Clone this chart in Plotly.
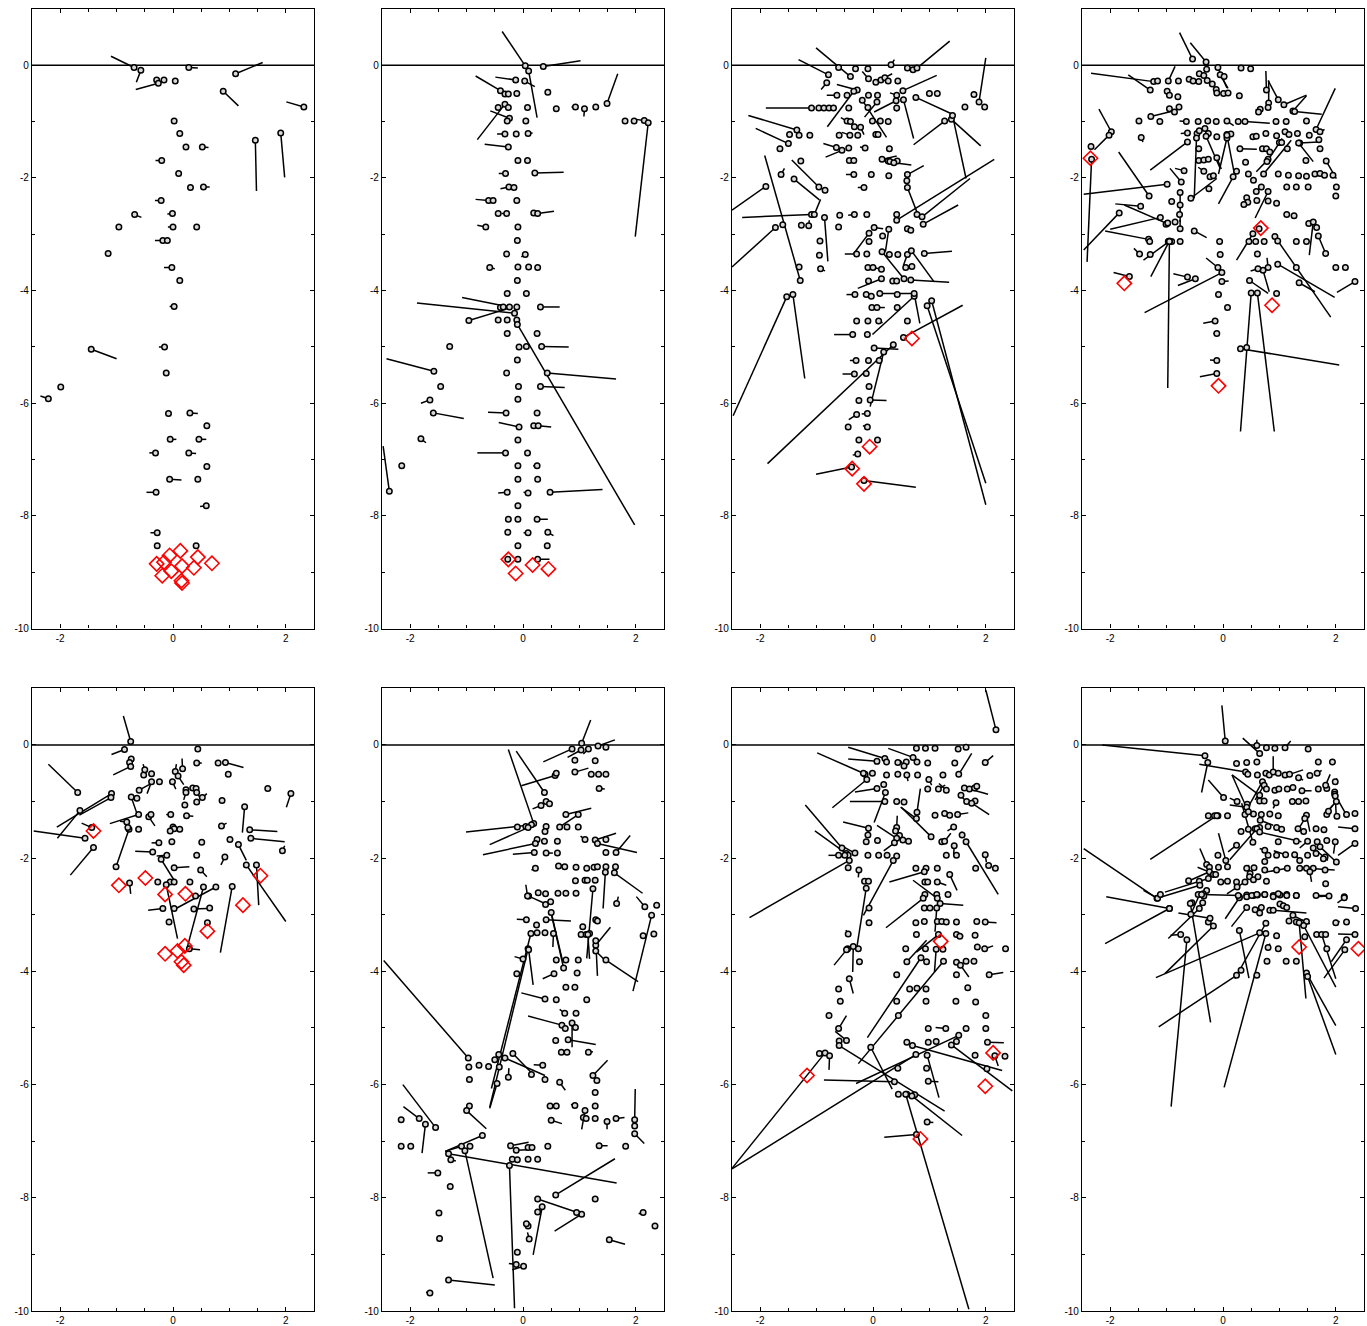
import plotly.graph_objects as go

# Each row: [x, y] for a station dot, or [x, y, x_end, y_end] when the dot carries a displacement segment.
P1 = [
    [-0.69, -0.04, -1.10, 0.16], [-0.57, -0.09, -0.65, -0.30], [-0.29, -0.26], [-0.26, -0.32, -0.66, -0.43],
    [-0.16, -0.26], [0.04, -0.28], [0.28, -0.04, 0.44, -0.05], [1.11, -0.15, 1.59, 0.05],
    [0.89, -0.46, 1.16, -0.72], [2.32, -0.74, 2.01, -0.65], [0.02, -0.99], [0.12, -1.21], [0.23, -1.45],
    [0.52, -1.45, 0.63, -1.46], [1.46, -1.33, 1.48, -2.23], [1.91, -1.20, 1.98, -1.99],
    [-0.20, -1.69, -0.31, -1.69], [0.10, -1.92], [0.31, -2.17], [0.54, -2.16, 0.65, -2.16],
    [-0.21, -2.40, -0.32, -2.40], [-0.68, -2.65, -0.56, -2.70], [-0.01, -2.63, -0.10, -2.64], [-0.96, -2.87],
    [0.0, -2.87, -0.09, -2.87], [0.42, -2.87], [-0.18, -3.11, -0.32, -3.11], [-0.10, -3.11], [-1.15, -3.34],
    [-0.02, -3.59, -0.16, -3.59], [0.12, -3.82], [0.02, -4.28, -0.06, -4.28], [-1.45, -5.04, -1.0, -5.21],
    [-0.15, -5.0, -0.25, -5.0], [-0.12, -5.46], [-1.99, -5.71], [-2.21, -5.92, -2.35, -5.87], [-0.08, -6.18],
    [0.30, -6.17, 0.44, -6.18], [0.60, -6.40], [-0.05, -6.64, 0.06, -6.64], [0.46, -6.64, 0.59, -6.64],
    [-0.31, -6.88, -0.42, -6.88], [0.28, -6.88, 0.41, -6.89], [0.60, -7.12], [-0.06, -7.35, 0.15, -7.36],
    [0.44, -7.35], [-0.30, -7.58, -0.47, -7.58], [0.59, -7.82, 0.48, -7.83], [-0.28, -8.30, -0.40, -8.30],
    [-0.28, -8.53], [0.41, -8.53],
]
D1 = [[-0.06, -8.70], [0.13, -8.62], [-0.29, -8.85], [-0.16, -8.82], [0.44, -8.73], [0.69, -8.84],
      [-0.19, -9.06], [-0.03, -8.98], [0.16, -8.89], [0.37, -8.92], [0.15, -9.15], [0.16, -9.19]]

P2 = [
    [0.04, -0.01, -0.37, 0.60], [0.10, -0.10, 0.25, -0.93], [0.36, -0.02, 1.02, 0.08], [-0.13, -0.26, -0.49, -0.21],
    [0.03, -0.28, 0.21, -0.38], [-0.40, -0.45, -0.84, -0.19], [-0.32, -0.51], [-0.26, -0.51], [-0.11, -0.50],
    [0.44, -0.48, 0.48, -0.43], [-0.32, -0.69, -0.81, -1.32], [-0.44, -0.75], [-0.26, -0.75], [0.08, -0.75],
    [-0.24, -0.94, -0.58, -0.81], [-0.28, -0.99], [0.05, -0.99], [0.59, -0.77], [0.93, -0.74, 0.86, -0.74],
    [1.09, -0.77, 1.08, -0.91], [1.29, -0.74], [1.49, -0.68, 1.68, -0.15], [1.81, -0.99], [1.97, -0.99],
    [2.15, -0.98, 2.0, -0.96], [2.22, -1.02, 1.99, -3.04], [-0.32, -1.22, -0.46, -1.22], [-0.12, -1.22],
    [0.09, -1.21, 0.17, -1.20], [-0.26, -1.45, -0.68, -1.40], [-0.09, -1.69], [0.08, -1.69],
    [-0.31, -1.92, -0.43, -1.92], [0.21, -1.91, 0.72, -1.90], [-0.25, -2.16, -0.40, -2.19], [-0.16, -2.17],
    [-0.61, -2.40, -0.84, -2.38], [-0.53, -2.40], [-0.11, -2.40], [-0.44, -2.63], [-0.29, -2.63, -0.38, -2.63],
    [0.19, -2.62], [0.26, -2.63, 0.55, -2.59], [-0.66, -2.87, -0.81, -2.84], [-0.09, -2.87], [-0.10, -3.11],
    [-0.29, -3.35], [0.04, -3.36, -0.03, -3.40], [-0.59, -3.59, -0.50, -3.61], [-0.09, -3.58], [0.10, -3.58],
    [0.26, -3.59], [-0.10, -3.82], [-0.28, -4.05], [0.06, -4.05], [-0.40, -4.30], [-0.35, -4.29],
    [-0.24, -4.29, -1.08, -4.12], [-0.11, -4.29], [-0.15, -4.40, -1.88, -4.22], [0.31, -4.29, 0.65, -4.29],
    [-0.96, -4.53, -0.24, -4.31], [-0.44, -4.52], [-0.28, -4.52], [-0.11, -4.52], [-0.10, -4.60, 1.98, -8.16],
    [-0.28, -4.76], [0.25, -4.76], [-1.30, -4.99], [-0.07, -5.0], [0.06, -4.99], [0.33, -4.99, 0.81, -5.0],
    [-0.10, -5.23], [-1.58, -5.43, -2.42, -5.21], [-0.29, -5.46], [0.43, -5.46, 1.65, -5.57], [-1.46, -5.70],
    [-0.08, -5.70], [0.31, -5.70, 0.74, -5.72], [-1.65, -5.94, -1.81, -6.0], [-0.09, -5.93],
    [-1.59, -6.17, -1.05, -6.27], [-0.30, -6.17, -0.62, -6.16], [0.25, -6.17], [-0.07, -6.42, -0.43, -6.34],
    [0.19, -6.40], [0.27, -6.40, 0.50, -6.42], [-0.09, -6.65], [-1.81, -6.63, -1.72, -6.70],
    [-0.31, -6.88, -0.81, -6.88], [0.08, -6.88], [-2.15, -7.11], [-0.09, -7.11], [0.25, -7.11, 0.18, -7.11],
    [-0.09, -7.35], [0.26, -7.35], [-2.37, -7.56, -2.48, -6.76], [-0.28, -7.58, -0.44, -7.59],
    [0.09, -7.59, 0.01, -7.58], [0.48, -7.58, 1.41, -7.53], [-0.09, -7.82], [-0.26, -8.06], [-0.09, -8.06],
    [0.25, -8.06, 0.44, -8.06], [-0.27, -8.29], [0.09, -8.30, 0.01, -8.30], [0.44, -8.29, 0.54, -8.35],
    [-0.09, -8.53], [0.43, -8.53], [-0.27, -8.77], [-0.09, -8.77], [0.26, -8.77, 0.47, -8.77],
]
D2 = [[-0.26, -8.77], [-0.13, -9.02], [0.17, -8.87], [0.45, -8.94]]

P3 = [
    [-0.61, -0.04], [-0.79, -0.17, -1.32, 0.10], [-0.40, -0.20, -1.01, 0.31], [-0.31, -0.06], [-0.09, -0.06],
    [0.32, 0.01, 0.38, 0.10], [0.61, -0.05], [0.71, -0.08], [0.78, -0.05, 1.36, 0.43], [-0.82, -0.31, -0.92, -0.43],
    [-0.08, -0.24, -0.19, -0.11], [0.05, -0.30], [0.14, -0.26], [0.21, -0.22, 0.34, -0.15], [0.27, -0.28],
    [0.44, -0.28], [-0.64, -0.53, -0.82, -0.53], [-0.46, -0.53], [-0.28, -0.44, -0.64, -0.34],
    [-0.34, -0.46, -0.81, -1.09], [-0.08, -0.53], [0.08, -0.53], [0.42, -0.53, 0.30, -0.49],
    [0.53, -0.45, 1.13, -0.18], [1.0, -0.50], [1.14, -0.50], [1.79, -0.52], [1.88, -0.65, 2.0, 0.13],
    [1.98, -0.74], [1.63, -0.74], [-1.09, -0.76, -1.90, -0.76], [-0.96, -0.76], [-0.87, -0.76], [-0.78, -0.76],
    [-0.70, -0.76], [-0.43, -0.76], [-0.19, -0.62, 0.24, -1.28], [0.07, -0.65, -0.15, -0.92],
    [0.41, -0.63, 0.02, -0.83], [0.54, -0.61, 0.72, -1.30], [0.76, -0.57, 1.41, -0.87], [0.42, -0.76, 0.42, -0.82],
    [-0.09, -0.75], [-0.46, -0.99, -0.57, -0.93], [-0.40, -1.0], [-0.01, -0.99], [0.13, -0.99], [0.27, -1.0],
    [1.27, -0.99, 0.72, -1.41], [1.39, -0.96, 1.91, -1.43], [1.41, -0.89, 1.65, -2.01],
    [-1.35, -1.15, -2.21, -0.89], [-1.48, -1.23], [-1.31, -1.24], [-1.12, -1.24], [-0.33, -1.09],
    [-0.22, -1.10, -0.16, -1.23], [-0.60, -1.24], [-0.41, -1.24, -0.55, -1.19], [-0.27, -1.24], [0.05, -1.23],
    [0.09, -1.23], [-1.50, -1.39, -2.08, -1.12], [-1.65, -1.48], [-0.65, -1.46, -0.88, -1.39],
    [-0.55, -1.51, -0.84, -1.63], [-0.43, -1.47], [-0.14, -1.47, -0.23, -1.45], [0.29, -1.48], [-1.28, -1.70],
    [-0.42, -1.69], [-0.34, -1.69], [0.16, -1.67, 0.42, -1.61], [0.27, -1.70], [0.30, -1.71], [0.43, -1.70],
    [0.37, -1.73, 0.68, -1.77], [-1.63, -1.94, -1.57, -1.83], [-1.40, -2.02, -0.95, -2.39],
    [-0.96, -2.16, -1.44, -1.68], [-0.85, -2.22], [-0.34, -1.94, -0.48, -1.94], [-0.03, -1.94], [0.28, -1.96],
    [0.61, -1.94, 0.90, -1.78], [0.60, -2.05], [-0.16, -2.17, -0.27, -2.17], [0.61, -2.17, 0.80, -2.66],
    [-1.90, -2.15, -2.50, -2.57], [-1.29, -3.82, -1.92, -1.60], [-1.31, -3.58], [-1.09, -2.65, -2.32, -2.70],
    [-1.04, -2.65, -0.93, -2.38], [-0.86, -2.70, -0.80, -3.48], [-0.59, -2.66], [-0.33, -2.65, -0.44, -2.66],
    [-0.11, -2.65], [0.42, -2.65], [0.42, -2.75, 2.15, -1.67], [0.78, -2.65], [0.87, -2.69, 1.72, -2.01],
    [0.89, -2.82, 1.51, -2.48], [-1.73, -2.88, -2.50, -3.58], [-1.60, -2.83], [-1.27, -2.84],
    [-1.14, -2.85, -1.13, -2.75], [-0.61, -2.87], [0.02, -2.88, 0.18, -2.90], [0.17, -3.03],
    [0.28, -2.91, 0.22, -3.31], [0.61, -2.90], [0.67, -2.93], [-0.07, -2.98, -0.34, -3.34], [-0.07, -3.13],
    [-0.94, -3.12], [-0.95, -3.37], [-0.93, -3.61, -0.85, -3.65], [-0.29, -3.35, -0.50, -3.35], [-0.11, -3.35],
    [0.16, -3.31, 0.54, -3.78], [0.29, -3.36], [0.44, -3.36], [0.61, -3.36, 0.54, -3.55],
    [0.68, -3.29, 1.08, -3.84], [0.91, -3.34, 1.40, -3.30], [-0.09, -3.59], [0.0, -3.59],
    [0.15, -3.62, 0.04, -3.60], [-0.08, -3.83], [0.15, -3.79, -0.27, -3.96], [0.35, -3.83], [0.42, -3.83],
    [0.55, -3.79], [0.67, -3.81, 1.35, -3.85], [0.58, -3.59], [0.69, -3.57],
    [-1.53, -4.11, -2.48, -6.22], [-1.42, -4.07, -1.21, -5.56], [-0.32, -4.07, -0.47, -4.07], [-0.12, -4.07],
    [-0.03, -4.10], [0.12, -4.05, 0.74, -4.05], [0.43, -4.07], [0.73, -4.10, -0.01, -4.78],
    [0.73, -4.05, 0.83, -4.58], [0.96, -4.27, 2.0, -7.42], [1.04, -4.18, 2.0, -7.80], [0.36, -4.96, -1.87, -7.07],
    [0.54, -4.83, 1.59, -4.26], [-0.02, -4.30], [0.07, -4.30, 0.21, -4.30], [0.43, -4.30], [-0.29, -4.54],
    [-0.09, -4.54], [0.10, -4.54, 0.17, -4.57], [0.61, -4.54], [-0.36, -4.78, -0.69, -4.78], [-0.10, -4.78],
    [0.02, -5.02, 0.45, -5.04], [0.19, -5.09, -0.05, -6.06], [-0.30, -5.24, -0.41, -5.24], [-0.08, -5.24],
    [0.11, -5.24], [-0.33, -5.48, -0.54, -5.48], [-0.12, -5.47], [-0.07, -5.70], [-0.25, -5.95],
    [-0.05, -5.94, 0.24, -5.95], [-0.29, -6.20, -0.43, -6.29], [-0.10, -6.18, -0.20, -6.19], [-0.44, -6.42],
    [-0.10, -6.42, -0.18, -6.40], [-0.25, -6.65], [0.08, -6.65], [-0.27, -6.90, -0.36, -6.92],
    [-0.16, -7.37, 0.76, -7.49], [-0.38, -7.13, -1.01, -7.26],
]
D3 = [[0.69, -4.85], [-0.06, -6.77], [-0.37, -7.16], [-0.16, -7.43]]

P4 = [
    [-0.54, 0.11, -0.77, 0.58], [-0.30, 0.06, -0.58, 0.40], [-0.29, -0.07], [-0.09, -0.04, 0.07, -0.40],
    [0.32, -0.05], [0.49, -0.06], [-1.23, -0.29, -2.34, -0.14], [-1.16, -0.28], [-1.29, -0.44, -1.68, -0.17],
    [-0.97, -0.28, -0.85, -0.02], [-0.79, -0.28], [-0.60, -0.25], [-0.53, -0.28], [-0.43, -0.29], [-0.42, -0.15],
    [-0.34, -0.18], [-0.28, -0.27], [-0.19, -0.33], [-0.12, -0.43, -0.16, -0.38], [-0.05, -0.17, 0.09, -0.41],
    [0.02, -0.20], [-0.99, -0.46], [-0.95, -0.53], [-0.80, -0.56], [-0.11, -0.49], [0.01, -0.50], [0.09, -0.49],
    [0.29, -0.54], [0.77, -0.44, 0.76, -0.10], [0.81, -0.67, 0.81, -0.27], [0.98, -0.61, 0.80, -0.27],
    [1.08, -0.70, 1.48, -0.53], [1.24, -0.81, 1.48, -0.54], [1.27, -0.82, 1.75, -0.87], [0.66, -0.78],
    [0.63, -0.83, 0.58, -0.78], [0.80, -0.75], [1.65, -1.14, 1.99, -0.41], [1.72, -1.18, 1.80, -1.14],
    [-1.98, -1.18, -2.20, -0.78], [-2.02, -1.24, -2.28, -1.50], [-2.34, -1.44], [-2.33, -1.67, -2.41, -3.49],
    [-1.49, -0.99], [-1.28, -0.91, -0.83, -0.80], [-1.12, -1.0], [-0.95, -0.77], [-0.86, -0.83], [-0.78, -0.74],
    [-0.65, -1.0, -0.77, -0.99], [-0.44, -1.0], [-0.27, -0.99], [-0.12, -1.0], [0.07, -0.99, 0.19, -1.07],
    [0.27, -1.0], [0.39, -1.0, 0.83, -1.03], [0.94, -1.0], [1.12, -1.0], [1.48, -0.99],
    [-1.45, -1.28, -1.42, -1.36], [-0.63, -1.20, -0.75, -1.21], [-0.63, -1.36, -1.29, -1.86], [-0.46, -1.21],
    [-0.42, -1.16], [-0.32, -1.12], [-0.26, -1.21], [-0.11, -1.27], [0.07, -1.23], [0.14, -1.22],
    [-0.47, -1.29, -0.51, -2.36], [-0.30, -1.26, -0.05, -1.83], [0.07, -1.29, -0.08, -1.93],
    [0.07, -1.24, 0.20, -1.92], [-0.43, -1.48], [-0.43, -1.69], [-0.34, -1.68], [-0.26, -1.67],
    [-0.34, -1.88, -0.44, -1.81], [-0.11, -1.64, -0.03, -1.84], [0.30, -1.48, 0.60, -1.49], [0.40, -1.72],
    [0.53, -1.27], [0.59, -1.26], [0.76, -1.21], [0.95, -1.25], [1.10, -1.18], [1.17, -1.23], [1.32, -1.21],
    [1.53, -1.24], [0.70, -1.48], [0.77, -1.48], [0.83, -1.54], [0.80, -1.67, 0.59, -1.89],
    [0.78, -1.71, 1.05, -1.30], [1.00, -1.37], [1.04, -1.37], [1.14, -1.48], [1.36, -1.38, 1.69, -1.36],
    [1.34, -1.38, 1.60, -1.71], [1.47, -1.69], [1.70, -1.32], [1.72, -1.48], [1.83, -1.70, 2.01, -2.01],
    [-0.99, -2.11, -2.47, -2.29], [-1.31, -2.32, -1.85, -1.54], [-0.69, -1.87, -0.85, -1.83],
    [-0.74, -2.07, -0.94, -1.83], [-0.76, -2.26, -0.76, -2.78], [-0.91, -2.42], [-0.76, -2.48], [-0.77, -2.65],
    [-0.57, -2.36, -0.11, -2.01], [-0.23, -1.98], [-0.17, -1.96], [-0.25, -2.19], [0.18, -1.98, -0.08, -2.46],
    [0.24, -1.88], [0.45, -1.93], [0.54, -2.04], [0.68, -2.16], [0.59, -2.24], [0.72, -1.93, 1.21, -1.33],
    [0.80, -2.24, 0.57, -2.71], [0.98, -1.93], [1.13, -2.16], [1.16, -1.95], [1.34, -1.96], [1.48, -1.97],
    [1.63, -1.93], [1.72, -1.92], [1.80, -1.95], [1.95, -1.95], [2.01, -2.16], [2.00, -2.32], [1.30, -2.16],
    [1.51, -2.16], [0.42, -2.35], [0.44, -2.43], [0.37, -2.47], [0.60, -2.40], [0.80, -2.41],
    [-1.46, -2.50, -1.91, -2.46], [-1.11, -2.70, -2.0, -2.91], [-0.99, -2.81, -1.75, -2.48], [0.95, -2.45],
    [1.13, -2.65], [1.26, -2.67],
    [-1.01, -2.82], [-0.98, -2.80], [-0.85, -2.78], [-0.76, -2.90, -0.76, -2.74], [-0.51, -2.94, -0.29, -3.06],
    [-1.32, -3.09, -2.09, -2.94], [-1.30, -3.13], [-0.97, -3.13], [-0.91, -3.13], [-0.96, -3.13, -1.41, -3.46],
    [-0.95, -3.12, -1.28, -3.75], [-0.95, -3.13, -0.98, -5.73], [-0.76, -3.13], [-1.48, -3.35, -1.58, -3.25],
    [-1.29, -3.36], [-1.84, -2.62, -2.47, -3.28], [-1.66, -3.75, -1.94, -3.68], [-0.63, -3.76, -0.88, -3.70],
    [-0.49, -3.79, -0.80, -3.91], [-0.06, -3.13], [-0.05, -3.36], [-0.09, -3.59, -0.30, -3.42],
    [-0.02, -3.68, -1.39, -4.39], [-0.02, -3.84, 0.10, -3.83], [-0.08, -4.07], [0.08, -4.30],
    [-0.14, -4.54, -0.35, -4.58], [-0.11, -4.76, -0.17, -4.76], [-0.11, -5.24, -0.23, -5.23],
    [-0.11, -5.47, -0.41, -5.53], [0.31, -5.03, 2.06, -5.32], [0.42, -5.01], [0.50, -4.04, 0.31, -6.50],
    [0.61, -4.04, 0.91, -6.50], [0.95, -4.05], [0.47, -3.82, 0.80, -4.05], [0.61, -3.35],
    [0.71, -3.64, 0.82, -4.02], [0.80, -3.59, 0.78, -3.42], [0.62, -3.61, 0.49, -3.65], [0.64, -2.90],
    [0.53, -2.99, 0.24, -3.46], [0.46, -3.13], [0.73, -3.13], [0.58, -3.13], [0.92, -3.04, 1.91, -4.47],
    [0.97, -3.12], [0.97, -3.53, 1.98, -4.12], [1.30, -3.13], [1.48, -3.13], [1.30, -3.59],
    [1.35, -3.86, 1.63, -4.02], [1.52, -2.81], [1.66, -2.88], [1.69, -3.03], [1.60, -2.78, 1.53, -3.37],
    [1.82, -3.34, 1.69, -3.03], [2.0, -3.59], [2.17, -3.59], [2.34, -3.84, 2.02, -4.03],
]
D4 = [[-2.35, -1.65], [0.67, -2.89], [-1.75, -3.87], [0.87, -4.26], [-0.08, -5.69]]

P5 = [
    [-0.75, 0.06, -0.88, 0.51], [-0.86, -0.08, -1.09, -0.17], [-0.74, -0.25], [-0.77, -0.31],
    [-0.75, -0.38, -1.06, -0.53], [-1.69, -0.84, -2.21, -0.34], [-0.52, -0.53], [-0.38, -0.51],
    [-0.50, -0.44, -0.53, -0.34], [-0.38, -0.65, -0.46, -0.86], [-0.24, -0.65], [-0.60, -0.80, -0.35, -0.66],
    [0.04, -0.47, 0.06, -0.34], [0.17, -0.42, 0.16, -0.24], [0.09, -0.55, 0.19, -0.70], [-0.01, -0.65, 0.05, -0.78],
    [0.23, -0.79], [0.35, -0.76], [0.41, -0.77], [0.23, -0.84, 0.19, -0.97], [0.42, -0.84, 0.48, -0.93],
    [0.52, -0.93, 0.60, -0.86], [0.44, -0.07], [0.42, -0.32, 0.51, -0.32], [0.80, -0.32],
    [0.93, -0.31, 1.25, -0.40], [0.98, -0.52], [1.68, -0.77, 1.74, -0.78], [2.09, -0.86, 2.01, -1.10],
    [0.42, -1.01], [0.21, -1.06], [0.87, -0.98, 0.92, -0.97], [1.27, -1.09, 1.23, -1.55],
    [-1.09, -0.86, -2.06, -1.45], [-1.10, -0.93, -1.66, -1.24], [-0.74, -0.92, -0.63, -1.24], [-0.64, -0.94],
    [-1.65, -1.16, -2.05, -1.65], [-0.61, -1.23, -1.12, -1.39], [-0.43, -1.27, -0.32, -1.43], [-0.39, -1.23],
    [-0.04, -1.23, -0.12, -1.23], [0.24, -1.25, 0.36, -1.26], [-0.82, -1.36, -0.94, -1.35],
    [-0.78, -1.49, -1.01, -2.15], [-0.80, -1.46], [-0.61, -1.49], [-1.44, -1.46, -1.62, -1.38],
    [-1.56, -1.65, -2.47, -1.52], [-1.41, -1.81, -1.82, -2.30], [0.0, -1.45], [0.02, -1.48], [0.12, -1.49],
    [-0.05, -1.52], [-0.25, -1.73, -0.38, -1.73], [-0.02, -1.71], [0.51, -1.72], [0.86, -1.43, 0.95, -1.38],
    [1.01, -1.67], [1.36, -1.50, 1.85, -1.53], [1.38, -1.65, 1.98, -1.71], [1.94, -1.87, 1.98, -1.78],
    [1.16, -1.76, 1.30, -2.04], [-0.36, -1.89, -0.67, -1.88], [-0.11, -1.95, -0.29, -1.96], [0.42, -1.95],
    [-0.21, -2.02, 0.02, -2.39], [0.92, -1.98, 0.85, -2.12], [1.30, -2.12, 2.0, -3.12], [1.48, -2.12, 1.52, -2.83],
    [0.02, -2.17, 0.29, -2.15], [0.49, -2.21, 0.60, -2.33], [-1.01, -2.15], [-0.77, -2.44, -0.75, -2.63],
    [-0.27, -2.42], [-0.05, -2.42], [0.02, -2.42], [-0.12, -2.47, 0.08, -3.42], [0.30, -2.42],
    [0.54, -2.51, 0.23, -3.66], [0.76, -2.51, 0.07, -2.88], [1.05, -2.50, 0.84, -3.67], [0.40, -2.67],
    [-0.18, -2.89, -0.44, -2.92], [0.02, -2.89], [0.37, -2.90, 0.60, -2.89], [0.65, -2.88], [-0.07, -3.13],
    [0.61, -3.14], [0.29, -3.60, 0.48, -3.62],
]
D5 = [[-1.41, -1.52], [-0.49, -2.35], [-0.96, -2.48], [-0.14, -2.64], [0.22, -2.63], [1.55, -2.31],
      [1.24, -2.83], [0.61, -3.29], [-0.14, -3.69], [0.08, -3.64], [0.21, -3.55], [0.15, -3.83], [0.19, -3.89]]

P6 = [
    [1.04, 0.03, 1.20, 0.44], [0.87, -0.07, 0.36, -0.30], [1.03, -0.09, 0.79, -0.22], [1.16, -0.07, 1.07, -0.16],
    [1.33, -0.02, 1.63, 0.09], [1.47, -0.04], [0.92, -0.27], [1.28, -0.28], [0.57, -0.54, -0.03, -0.72],
    [0.59, -0.50], [0.92, -0.48, 1.16, -0.41], [1.21, -0.52], [1.34, -0.52], [1.47, -0.52],
    [1.35, -0.77, 1.45, -0.78], [0.38, -0.84, -0.12, -0.11], [0.19, -1.39, -0.26, -0.08], [0.41, -1.0],
    [0.47, -1.04], [0.32, -1.07, 0.17, -1.13], [0.76, -1.23, 1.21, -1.12], [0.98, -1.23, 0.69, -1.42],
    [0.65, -1.45], [0.78, -1.45], [0.98, -1.45], [1.10, -1.67, 1.02, -1.61], [1.28, -1.68, 1.65, -1.56],
    [1.32, -1.74, 2.02, -1.90], [1.47, -1.67], [1.65, -1.90, 1.90, -1.60], [1.47, -1.90], [0.41, -1.44],
    [0.39, -1.53], [0.25, -1.67], [0.38, -1.70], [-0.10, -1.45], [0.05, -1.44], [0.15, -1.41, -1.01, -1.54],
    [0.09, -1.46, -0.59, -1.76], [0.22, -1.74, -0.71, -1.94], [0.20, -1.90, -0.18, -1.93],
    [0.41, -1.91, 0.53, -1.91], [0.61, -1.91], [0.61, -1.70], [0.22, -2.18, 0.15, -2.21], [0.63, -2.14],
    [0.74, -2.15], [0.94, -2.16], [1.13, -2.18], [1.26, -2.16], [1.32, -2.15], [1.47, -2.15], [1.64, -2.15],
    [1.46, -2.25, 1.42, -2.89], [1.62, -2.26, 2.12, -2.62], [0.93, -2.40], [1.10, -2.39], [1.14, -2.39],
    [1.28, -2.39], [1.24, -2.54, 1.13, -3.77], [0.10, -2.67, 0.41, -2.81], [0.08, -2.67, 0.05, -2.47],
    [0.27, -2.61], [0.40, -2.63], [0.40, -2.82], [0.49, -2.77], [0.62, -2.62], [0.76, -2.62], [0.94, -2.62],
    [1.66, -2.80, 1.69, -2.68], [2.16, -2.86, 2.01, -2.68], [2.37, -2.83], [0.06, -3.09, -0.11, -3.08],
    [0.41, -3.09, 0.85, -3.11], [0.50, -2.96, 0.70, -3.81], [0.24, -3.18], [0.25, -3.32], [0.39, -3.32],
    [0.54, -3.33, 0.53, -3.57], [0.09, -3.60, -0.59, -6.40], [0.14, -3.33, -0.56, -6.07], [1.06, -3.21],
    [1.03, -3.35], [1.12, -3.35], [1.18, -3.33], [1.29, -3.09], [1.32, -3.11], [1.15, -3.35, 1.18, -3.78],
    [1.29, -3.54, 1.55, -3.22], [1.29, -3.64, 1.47, -3.82], [1.47, -3.80, 2.04, -4.18],
    [1.29, -3.46, 1.32, -4.08], [2.28, -3.01, 1.95, -4.35], [2.13, -3.37], [2.32, -3.34],
    [0.0, -3.78, -0.15, -3.74], [0.10, -3.62, 0.18, -4.24], [0.59, -3.80], [0.76, -3.80], [0.98, -3.80],
    [0.72, -3.94, 0.50, -2.98], [0.55, -4.04, 0.35, -4.13], [-0.11, -4.04], [0.76, -4.28], [0.92, -4.28],
    [0.96, -4.03], [0.39, -4.49, -0.03, -4.38], [0.59, -4.50], [1.13, -4.50], [0.74, -4.74, 0.65, -4.67],
    [0.94, -4.74], [0.69, -4.95, 0.09, -4.79], [0.87, -4.91, 0.87, -5.34], [0.75, -5.01], [0.93, -4.99],
    [0.58, -5.22], [0.80, -5.21, 1.29, -5.29], [0.68, -5.43], [0.78, -5.43], [1.16, -5.43, 1.24, -5.42],
    [-0.97, -5.53, -2.47, -3.81], [-0.96, -5.69], [-0.78, -5.66], [-0.61, -5.68], [-0.42, -5.69],
    [-0.50, -5.56], [-0.43, -5.47], [-0.32, -5.53, 0.39, -5.84], [-0.18, -5.45, 0.15, -5.79],
    [0.35, -5.66, 0.19, -5.65], [-0.26, -5.87, -0.25, -5.71], [0.15, -5.82], [0.39, -5.91], [-0.95, -5.91],
    [-0.46, -5.98, -0.59, -6.42], [0.65, -5.96, 0.75, -6.10], [1.24, -5.84, 1.50, -5.57], [1.31, -5.93],
    [1.28, -6.14], [-0.95, -6.38], [-1.0, -6.46, -0.65, -6.78], [0.48, -6.38], [0.59, -6.38],
    [0.92, -6.37, 0.85, -6.35], [1.28, -6.38], [1.10, -6.46, 1.04, -6.79], [1.07, -6.58], [1.12, -6.60],
    [1.28, -6.60], [1.49, -6.65, 1.49, -6.79], [1.65, -6.60, 1.80, -6.58], [1.98, -6.62, 1.99, -6.08],
    [1.98, -6.73], [1.98, -6.87, 2.15, -7.04], [0.50, -6.63, 0.69, -6.69], [-2.16, -6.62],
    [-1.84, -6.60, -2.12, -6.39], [-1.73, -6.70, -1.79, -7.21], [-1.55, -6.76, -2.13, -6.0], [-2.16, -7.09],
    [-1.99, -7.09], [-1.09, -7.09, -1.38, -7.18], [-0.94, -7.09], [-1.03, -7.17, -0.53, -9.42],
    [-0.72, -6.90, -1.38, -7.18], [-1.28, -7.33, -1.19, -7.35], [-1.32, -7.22, 1.66, -7.74],
    [-0.22, -7.08, 0.10, -7.02], [0.09, -7.11], [0.16, -7.11], [-0.12, -7.16, 0.09, -7.15], [0.44, -7.09],
    [-0.19, -7.32], [-0.10, -7.33], [0.09, -7.32], [0.26, -7.32], [-0.24, -7.43, -0.15, -9.95],
    [1.35, -7.08, 1.50, -7.08], [1.82, -7.09], [0.58, -7.95, 1.63, -7.31], [-1.51, -7.56, -1.69, -7.56],
    [-1.29, -7.80], [0.26, -8.02, 0.94, -8.25], [1.28, -8.02], [0.34, -8.16, 0.18, -9.01], [0.26, -8.25],
    [1.04, -8.29, 0.56, -8.59], [0.95, -8.26], [-1.49, -8.27], [2.13, -8.26, 2.05, -8.28], [2.34, -8.50],
    [0.09, -8.50], [0.06, -8.46], [0.11, -8.73, 0.08, -8.61], [-1.48, -8.72], [1.53, -8.74, 1.81, -8.82],
    [-0.10, -8.96], [-0.12, -9.18, -0.25, -9.16], [0.01, -9.21, -0.19, -9.27], [-1.32, -9.45, -0.50, -9.54],
    [-1.65, -9.68, -1.72, -9.67],
]
D6 = []

P7 = [
    [2.18, 0.27, 2.0, 0.97], [0.77, -0.06], [0.93, -0.06], [1.10, -0.06], [1.51, -0.07], [1.65, -0.04],
    [0.21, -0.24, -0.44, -0.04], [0.71, -0.22, 0.27, -0.06], [0.07, -0.29, -0.44, -0.25], [0.24, -0.30],
    [0.44, -0.31], [0.59, -0.30], [0.78, -0.30], [0.97, -0.32], [1.45, -0.32], [0.55, -0.37, 0.48, -0.27],
    [-0.14, -0.52], [-0.01, -0.50], [-0.17, -0.50, -0.99, -0.14], [-0.11, -0.61, -0.72, -1.11],
    [0.07, -0.77, -0.32, -0.83], [0.19, -0.70], [0.24, -0.53], [0.44, -0.52], [0.60, -0.53, 0.62, -0.64],
    [0.79, -0.53], [0.99, -0.61, 1.04, -0.71], [1.24, -0.53], [1.52, -0.52, 1.75, -0.15],
    [1.99, -0.31, 2.13, -0.19], [0.97, -0.78], [1.16, -0.78, 1.28, -0.71], [1.30, -0.80, 1.17, -0.68],
    [1.62, -0.76], [1.71, -0.78, 2.04, -0.87], [1.80, -0.76], [1.84, -0.73], [1.56, -0.89], [1.81, -0.99],
    [1.66, -1.0, 1.54, -0.89], [1.75, -1.03, 2.06, -1.23], [0.22, -0.84, 0.02, -1.37], [0.21, -1.0, -0.41, -1.0],
    [0.42, -1.0], [0.55, -1.01], [0.78, -1.19, 0.84, -0.77], [0.77, -1.30, 0.49, -1.10],
    [1.03, -1.62, 0.50, -1.10], [1.10, -1.24], [1.27, -1.21], [1.36, -1.24], [1.50, -1.23, 1.69, -1.20],
    [1.43, -1.45, 1.32, -1.52], [1.22, -1.71], [1.27, -1.70, 1.38, -1.56], [1.44, -1.78, 1.43, -1.94],
    [1.30, -1.95], [1.48, -1.95], [1.65, -1.71, 2.22, -2.64], [1.58, -1.59, 1.57, -1.53],
    [1.99, -1.94, 2.01, -2.07], [2.05, -2.13], [2.17, -2.18], [1.82, -2.18], [-0.08, -1.47, -0.53, -1.36],
    [-0.09, -1.59, -0.08, -1.42], [0.42, -1.46, 0.43, -1.25], [0.40, -1.52], [0.47, -1.60], [0.53, -1.68],
    [0.63, -1.70], [0.42, -1.65, 0.07, -1.42], [-0.12, -1.71], [0.08, -1.69], [0.38, -1.73, 0.19, -1.87],
    [-0.55, -1.82, -1.20, -1.06], [-0.47, -1.92, -1.03, -1.52], [-0.32, -1.91, -0.58, -1.77], [-0.44, -1.95],
    [-0.50, -1.95], [-0.61, -1.95, -0.79, -1.95], [-0.09, -1.95], [0.10, -1.95], [0.25, -1.95], [0.42, -1.96],
    [-0.42, -2.04, -2.19, -3.05], [-0.44, -2.17], [-0.25, -2.21, -0.26, -2.34], [-0.15, -2.41], [-0.08, -2.41],
    [0.36, -2.04, -0.17, -3.01], [-0.12, -2.53, -0.29, -3.60], [-0.07, -2.88], [-0.07, -3.14],
    [-0.44, -3.34, -0.48, -3.27], [0.76, -2.18], [0.94, -2.18], [1.14, -2.18], [0.91, -2.24, 0.29, -2.42],
    [0.92, -2.42], [0.97, -2.42], [1.14, -2.42, 1.30, -2.48], [1.36, -2.29, 1.49, -2.57], [0.92, -2.64],
    [1.13, -2.64], [1.33, -2.64], [1.14, -2.71, 0.71, -2.39], [1.19, -2.80, 1.60, -2.83], [0.91, -2.88],
    [1.01, -2.88], [1.13, -2.88, 1.10, -3.30], [0.89, -2.71, 0.23, -3.23], [0.76, -3.14], [0.91, -3.12],
    [1.14, -3.12], [1.22, -3.12], [1.30, -3.13], [1.48, -3.13], [1.84, -3.12], [1.99, -3.13, 2.19, -3.14],
    [0.77, -3.35], [1.16, -3.35, 0.77, -3.66], [1.48, -3.35, 1.60, -3.38], [1.54, -3.38], [1.81, -3.36],
    [-0.45, -3.60], [-0.35, -3.56, -0.36, -4.01], [-0.26, -3.60], [-0.47, -3.62, -0.69, -3.89], [-0.24, -3.83],
    [-0.42, -4.13, -0.35, -4.39], [0.58, -3.60], [0.93, -3.60], [1.12, -3.61, 1.09, -4.01], [1.24, -3.61],
    [0.85, -3.76, -0.10, -5.17], [0.60, -3.83, 0.95, -3.45], [1.25, -3.82, -0.26, -5.63], [0.95, -3.83],
    [1.48, -3.84], [1.55, -3.89, 1.70, -4.10], [1.65, -3.82], [1.79, -3.82], [1.98, -3.60, 2.13, -3.55],
    [2.35, -3.60], [1.85, -3.57], [0.42, -4.06], [1.48, -4.06], [2.06, -4.06, 2.31, -4.02], [-0.61, -4.31],
    [-0.58, -4.53], [-0.78, -4.78], [0.65, -4.31], [0.78, -4.30], [0.94, -4.31], [0.42, -4.53], [0.94, -4.53],
    [1.47, -4.53], [1.82, -4.54], [1.68, -4.29], [0.45, -4.78], [2.0, -4.78], [-0.61, -5.01, -0.47, -4.78],
    [-0.47, -5.22, -0.67, -5.06], [-0.60, -5.23], [-0.60, -5.31, 1.27, -6.47], [0.98, -5.01],
    [1.29, -5.01, 1.11, -4.99], [1.65, -5.01], [2.0, -5.01], [0.60, -5.25], [0.70, -5.31, 2.29, -5.75],
    [0.98, -5.25], [1.12, -5.24], [1.52, -5.13, -0.30, -5.98], [1.48, -5.24], [1.39, -5.30, 2.47, -6.11],
    [2.03, -5.25, 2.32, -5.26], [0.76, -5.47, -2.50, -7.49], [-0.95, -5.45], [-0.85, -5.44, -2.50, -7.48],
    [-0.77, -5.49, -0.78, -5.74], [0.96, -5.48, 1.17, -6.23], [0.95, -5.71], [0.44, -5.71],
    [0.98, -5.94, 1.16, -5.95], [0.38, -5.95, -0.87, -5.92], [-0.04, -5.34, 0.34, -6.08], [1.81, -5.48],
    [2.16, -5.49, 2.22, -5.67], [2.34, -5.50], [2.02, -5.72], [0.45, -6.17], [0.60, -6.17], [0.74, -6.18],
    [0.58, -6.17, 1.70, -9.97], [0.69, -6.20, 1.58, -6.90], [0.96, -6.66, 1.07, -6.67], [0.77, -6.88, 0.20, -6.93],
]
D7 = [[1.20, -3.47], [-1.17, -5.84], [2.13, -5.44], [1.99, -6.03], [0.84, -6.96]]

P8 = [
    [0.04, 0.07, -0.02, 0.70], [-0.32, -0.19, -2.14, 0.0], [-0.27, -0.31, -0.38, -0.84], [0.40, -0.48, -0.42, -0.34],
    [0.65, -0.15, 0.35, 0.12], [0.60, -0.01, 0.60, 0.09], [0.77, -0.05], [0.92, -0.06], [1.10, -0.05, 1.20, 0.07],
    [1.51, -0.07], [0.24, -0.33], [0.42, -0.31], [0.60, -0.30], [1.69, -0.30], [1.94, -0.30], [0.44, -0.52],
    [0.61, -0.53], [0.76, -0.50], [0.82, -0.53], [0.89, -0.48, 0.89, -0.20], [0.98, -0.50], [1.10, -0.53],
    [1.18, -0.52, 1.42, -0.44], [1.34, -0.58, 1.42, -0.62], [1.54, -0.54], [1.67, -0.50, 1.75, -0.45],
    [0.70, -0.65, 0.45, -1.09], [0.73, -0.71, 0.57, -0.97], [0.77, -0.78], [0.92, -0.80], [0.99, -0.78],
    [0.65, -0.89, 0.16, -0.53], [1.14, -0.78], [1.24, -0.75], [1.40, -0.81, 1.57, -0.81], [1.69, -0.78],
    [1.84, -0.77], [1.98, -0.83], [1.82, -0.71, 1.90, -0.52], [1.99, -0.65, 2.02, -0.59],
    [1.98, -0.87, 2.19, -1.24], [1.99, -0.90, 2.01, -1.30], [2.01, -1.0, 1.84, -1.18],
    [0.01, -0.93, -0.26, -0.62], [0.25, -1.0, 0.12, -0.94], [0.43, -1.05], [0.65, -0.99], [0.73, -0.99],
    [0.94, -1.02, 0.89, -1.12], [1.23, -1.0], [1.34, -1.0], [1.47, -0.99], [0.42, -1.10, 0.12, -1.06],
    [-0.26, -1.25], [-0.15, -1.25], [-0.09, -1.25], [0.08, -1.25], [-0.11, -1.25, -1.29, -2.02], [0.39, -1.23],
    [0.54, -1.22], [0.68, -1.23], [0.83, -1.22], [0.98, -1.25], [0.45, -1.18, 0.16, -0.53],
    [0.53, -1.72, 0.33, -1.03], [1.48, -1.24, 1.54, -1.53], [1.45, -1.30, 1.33, -1.50], [1.84, -1.23],
    [2.02, -1.26], [2.19, -1.23], [2.34, -1.21], [1.87, -1.17, 1.95, -1.06], [0.32, -1.53], [0.45, -1.49],
    [0.57, -1.48], [0.65, -1.46], [0.80, -1.44], [0.95, -1.46], [1.04, -1.49], [0.60, -1.48, 0.12, -2.03],
    [0.65, -1.54, 1.39, -1.71], [0.66, -1.33, 0.89, -1.42], [1.33, -1.48], [1.43, -1.53], [1.65, -1.48],
    [1.79, -1.50], [2.34, -1.48, 2.04, -1.45], [1.30, -1.70], [1.50, -1.70, 1.36, -1.82], [1.67, -1.71],
    [1.84, -1.69], [1.72, -1.80, 2.0, -2.06], [2.34, -1.74, 2.04, -1.95], [1.99, -1.71, 1.96, -1.92],
    [0.98, -1.71], [0.74, -1.86, 0.65, -1.83], [0.80, -1.95], [0.95, -1.95], [1.11, -1.94, 0.90, -1.87],
    [1.27, -1.94], [1.36, -2.04, 1.24, -1.89], [1.50, -1.95], [1.65, -1.92], [1.81, -1.98], [1.78, -2.01],
    [2.01, -2.07], [1.60, -1.82, 1.86, -2.04], [0.24, -1.77, 0.09, -1.89], [0.05, -2.04, -0.08, -1.56],
    [-0.09, -1.95], [-0.29, -2.11, -0.41, -1.83], [-0.24, -2.16], [-0.08, -2.16], [0.08, -2.15], [0.42, -2.18],
    [0.55, -2.17], [0.74, -2.06], [0.74, -2.21], [0.95, -2.21], [1.14, -2.18, 0.74, -2.25], [1.36, -2.18],
    [1.48, -2.18, 1.98, -2.21], [1.60, -2.18], [1.81, -2.21], [1.54, -2.24, 1.57, -2.42],
    [-0.24, -2.24, -0.58, -2.39], [-0.17, -2.29], [-0.13, -2.29, -0.45, -2.16], [-0.26, -2.36, -1.03, -2.60],
    [0.48, -2.27, 0.45, -2.12], [0.47, -2.33], [0.54, -2.38], [0.62, -2.33], [0.77, -2.41],
    [0.39, -2.42, 0.07, -2.63], [0.24, -2.42], [0.25, -2.51], [-0.04, -2.42], [0.08, -2.41], [-0.61, -2.40],
    [-0.42, -2.41], [1.82, -2.45], [-0.41, -2.48, -1.17, -2.71], [-0.29, -2.57], [-0.35, -2.63], [-0.44, -2.64],
    [-0.34, -2.67], [-1.17, -2.71, -2.47, -1.83], [0.29, -2.68], [0.42, -2.65], [0.54, -2.66], [0.61, -2.65],
    [0.74, -2.64], [0.89, -2.66], [1.01, -2.65], [1.13, -2.64], [1.30, -2.66], [1.65, -2.66, 1.88, -2.66],
    [2.15, -2.68],
    [-1.16, -2.71, -1.41, -2.57], [-1.11, -2.64], [-0.95, -2.89, -2.07, -2.68], [-0.95, -2.89, -2.09, -3.51],
    [-0.55, -2.79], [-0.42, -2.89, -0.97, -3.42], [-0.36, -2.79], [-0.57, -2.99, -0.44, -2.70],
    [-0.58, -2.80, -0.22, -4.90], [-0.26, -3.13], [-0.23, -3.06, -0.79, -2.97], [-0.17, -3.20, -1.03, -4.04],
    [-0.75, -3.35, -0.93, -3.36], [-0.64, -3.44, -0.92, -6.39], [0.29, -3.28, 0.46, -4.12],
    [0.24, -4.07, -1.14, -4.98], [0.32, -3.98], [0.60, -4.07], [0.65, -3.32, -1.19, -4.11],
    [0.76, -3.33, 0.02, -6.05], [0.76, -3.15, 0.21, -4.13], [0.29, -2.70, 0.04, -3.07],
    [0.42, -2.87, 0.15, -3.21], [0.57, -2.91], [0.65, -2.97], [0.68, -2.87], [0.27, -2.66], [0.42, -2.68],
    [0.51, -2.66], [0.60, -2.64], [0.74, -2.64], [0.89, -2.68], [0.98, -2.63], [1.13, -2.66], [1.30, -2.66],
    [-0.38, -2.64, 0.30, -2.66], [0.83, -2.92, 0.89, -2.89], [0.95, -3.37], [0.98, -3.60],
    [0.80, -3.58, 0.83, -3.51], [0.78, -3.82], [1.12, -3.82], [1.30, -3.82], [1.01, -2.81], [1.07, -2.84],
    [1.13, -2.87], [0.89, -2.92, 1.48, -2.97], [1.17, -3.11], [1.30, -3.13], [1.39, -3.14], [1.48, -3.12],
    [1.24, -3.01, 1.54, -3.16], [1.35, -3.14, 1.47, -4.48], [1.43, -3.19, 2.0, -4.28],
    [1.48, -4.03, 2.0, -4.96], [1.50, -4.09, 2.0, -5.47], [1.45, -3.39], [1.66, -3.35],
    [1.75, -3.35, 2.0, -4.13], [1.82, -3.35], [1.84, -3.60], [2.0, -3.14, 2.07, -3.12], [2.19, -3.13],
    [2.16, -3.62, 1.79, -4.12], [2.19, -3.44, 1.92, -3.83], [2.34, -3.35, 2.04, -3.34],
    [1.88, -2.67, 1.63, -2.68], [2.15, -2.70, 2.03, -2.79], [2.35, -2.89, 2.04, -2.86],
]
D8 = [[1.35, -3.57], [2.40, -3.60]]

PANELS = [(P1, D1), (P2, D2), (P3, D3), (P4, D4), (P5, D5), (P6, D6), (P7, D7), (P8, D8)]

X_RANGE = [-2.5, 2.5]
Y_RANGE = [-10, 1]
X_TICKS = [-2, 0, 2]
Y_TICKS = [0, -2, -4, -6, -8, -10]

W, H = 1367, 1326
# Vertical layout grid used for the panel domains (slightly taller than the figure to
# leave the extra bottom padding under each row).
GRID_H = 1320
COL_LEFT = [32, 382, 732, 1082]
PANEL_W = 282
ROW_SPAN = [(9, 632), (692, 1318)]

fig = go.Figure()
layout = dict(
    width=W, height=H, margin=dict(l=0, r=0, t=0, b=0),
    paper_bgcolor="white", plot_bgcolor="white", showlegend=False,
    font=dict(family="Liberation Sans, Arial, sans-serif", size=10, color="black"),
)
shapes = []

for i, (pts, dia) in enumerate(PANELS):
    suffix = "" if i == 0 else str(i + 1)
    xa, ya = "x" + suffix, "y" + suffix
    col, row = i % 4, i // 4

    seg_x, seg_y = [], []
    for r in pts:
        if len(r) == 4:
            seg_x += [r[0], r[2], None]
            seg_y += [r[1], r[3], None]
    fig.add_trace(go.Scatter(x=seg_x, y=seg_y, mode="lines", xaxis=xa, yaxis=ya,
                             line=dict(color="black", width=1.5), hoverinfo="skip"))
    fig.add_trace(go.Scatter(x=[r[0] for r in pts], y=[r[1] for r in pts], mode="markers",
                             xaxis=xa, yaxis=ya,
                             marker=dict(symbol="circle", size=5.5, color="#d8d8d8",
                                         line=dict(color="black", width=1.5))))
    if dia:
        fig.add_trace(go.Scatter(x=[d[0] for d in dia], y=[d[1] for d in dia], mode="markers",
                                 xaxis=xa, yaxis=ya,
                                 marker=dict(symbol="diamond-open", size=11, color="red",
                                             line=dict(width=1.6))))

    left = COL_LEFT[col]
    top, bottom = ROW_SPAN[row]
    common = dict(showgrid=False, zeroline=False, showline=True, linecolor="black", linewidth=1.3,
                  mirror="ticks", ticks="inside", ticklen=4, tickcolor="black", tickwidth=1,
                  tickfont=dict(size=10, color="black"), fixedrange=True)
    layout["xaxis" + suffix] = dict(
        common, domain=[left / W, (left + PANEL_W) / W], anchor=ya, range=X_RANGE,
        tickmode="array", tickvals=X_TICKS, ticktext=[str(v) for v in X_TICKS],
        minor=dict(tickmode="linear", tick0=0, dtick=0.5, ticks="inside", ticklen=3,
                   tickcolor="black", showgrid=False),
    )
    layout["yaxis" + suffix] = dict(
        common, domain=[max(0.0, 1 - bottom / GRID_H), 1 - top / GRID_H], anchor=xa, range=Y_RANGE,
        tickmode="array", tickvals=Y_TICKS, ticktext=[str(v) for v in Y_TICKS],
        minor=dict(tickmode="linear", tick0=0, dtick=1, ticks="inside", ticklen=3,
                   tickcolor="black", showgrid=False),
    )
    # zero reference across the full panel width
    shapes.append(dict(type="line", xref=xa + " domain", yref=ya, x0=0, x1=1, y0=0, y1=0,
                       line=dict(color="black", width=1.5), layer="below"))

layout["shapes"] = shapes
fig.update_layout(**layout)
fig.write_html("out.html")
